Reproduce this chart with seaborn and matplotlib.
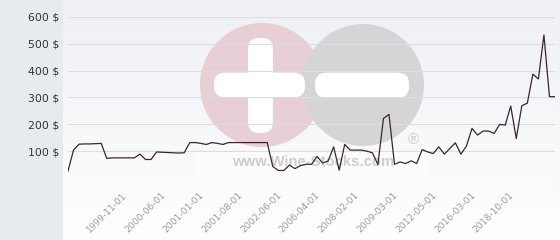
import numpy as np
import matplotlib
matplotlib.use("Agg")
import matplotlib.pyplot as plt
import matplotlib.transforms as mtrans
from matplotlib.patches import Circle, FancyBboxPatch, Rectangle
import seaborn as sns

# ---- data ----
prices = [26, 104, 126, 127, 127, 128, 129, 73, 75, 75, 75, 75, 75, 89, 69, 69,
          97, 96, 95, 94, 93, 94, 132, 132, 129, 125, 132, 129, 125, 132, 132, 132,
          132, 132, 132, 132, 132, 43, 28, 28, 48, 35, 46, 51, 51, 80, 56, 63,
          116, 29, 125, 104, 104, 104, 100, 94, 50, 222, 237, 51, 60, 54, 64, 54,
          106, 97, 91, 116, 89, 110, 131, 89, 119, 185, 160, 175, 175, 166, 200, 197,
          268, 147, 269, 279, 387, 369, 533, 303, 303]
tick_positions = [10, 17, 24, 31, 38, 45, 52, 59, 66, 73, 80]
tick_labels = ['1999-11-01', '2000-06-01', '2001-01-01', '2001-08-01', '2002-06-01',
               '2006-04-01', '2008-02-01', '2009-03-01', '2012-05-01', '2016-03-01',
               '2018-10-01']
y_ticks = [100, 200, 300, 400, 500, 600]
y_labels = ['100 $', '200 $', '300 $', '400 $', '500 $', '600 $']

sns.set_theme(style="white")
plt.rcParams['font.family'] = ['DejaVu Sans']

W, H = 560, 240
fig = plt.figure(figsize=(W / 100, H / 100), dpi=100)
fig.patch.set_facecolor('white')

# background layer in pixel coordinates
bg = fig.add_axes([0, 0, 1, 1], zorder=0)
bg.set_xlim(0, W)
bg.set_ylim(H, 0)
bg.axis('off')
grad = np.linspace(0, 1, 256).reshape(-1, 1)
top = np.array([238, 240, 245]) / 255
bot = np.array([255, 255, 255]) / 255
img = top[None, None, :] * (1 - grad[:, :, None]) + bot[None, None, :] * grad[:, :, None]
bg.imshow(img, extent=[63, W, H, 0], aspect='auto', zorder=0)
bg.add_patch(Rectangle((0, 0), 63, H, facecolor='#e7ebee', edgecolor='none', zorder=1))
bg.plot([559.5, 559.5], [0, H], color='#c8c8c8', lw=0.8, zorder=1)

# watermark
pink = (232 / 255, 206 / 255, 213 / 255)
grey = (213 / 255, 213 / 255, 215 / 255)
bg.add_patch(Circle((262, 85), 62, facecolor=pink, edgecolor='none', zorder=2))
bg.add_patch(Circle((363, 85), 61, facecolor=grey, edgecolor='none', zorder=3))
for (x0, y0, w, h) in [(248, 38, 25, 95), (214, 72.7, 91, 24.5), (315, 72.7, 94, 25)]:
    r = 11
    bg.add_patch(FancyBboxPatch((x0 + r, y0 + r), w - 2 * r, h - 2 * r,
                                boxstyle=f"round,pad={r}", facecolor='white',
                                edgecolor='none', zorder=4))
bg.add_patch(Rectangle((197, 152), 230, 23, facecolor='white', alpha=0.6,
                       edgecolor='none', zorder=5))
bg.text(313, 162, 'www.Wine-Stocks.com', fontsize=10.7, fontweight='bold',
        family=['Liberation Sans', 'DejaVu Sans'], color='#cdcdcd',
        ha='center', va='center', zorder=6)
bg.text(413, 140, '®', fontsize=11, color='#cdcdcd', ha='center', va='center',
        family=['Liberation Sans', 'DejaVu Sans'], zorder=6)

# main chart
ax = fig.add_axes([68 / W, (H - 178) / H, 487 / W, 161 / H], zorder=2)
ax.patch.set_alpha(0)
idx = np.arange(len(prices))
sns.lineplot(x=idx, y=prices, ax=ax, color='#3b2533', linewidth=0.9, zorder=5)
ax.set_xlim(0, len(prices) - 1)
ax.set_ylim(0, 600)
ax.set_yticks([0] + y_ticks)
ax.set_yticklabels([''] + y_labels)
ax.set_xticks(tick_positions)
ax.set_xticklabels(tick_labels, rotation=45, ha='right', va='top',
                   rotation_mode='anchor')
ax.tick_params(axis='y', length=0, pad=6.5, labelsize=7.8, labelcolor='#333333')
ax.tick_params(axis='x', length=0, pad=9, labelsize=6.6, labelcolor='#9a9a9a')
ax.grid(False)
for yv in [0] + y_ticks:
    ax.axhline(yv, color='#dddddd', lw=0.8, zorder=1)
for s in ax.spines.values():
    s.set_visible(False)
ax.set_xlabel('')
ax.set_ylabel('')

offset = mtrans.ScaledTranslation(-1.5 / 100, 0, fig.dpi_scale_trans)
for lab in ax.get_xticklabels():
    lab.set_transform(lab.get_transform() + offset)

fig.savefig('out.png', dpi=100)
